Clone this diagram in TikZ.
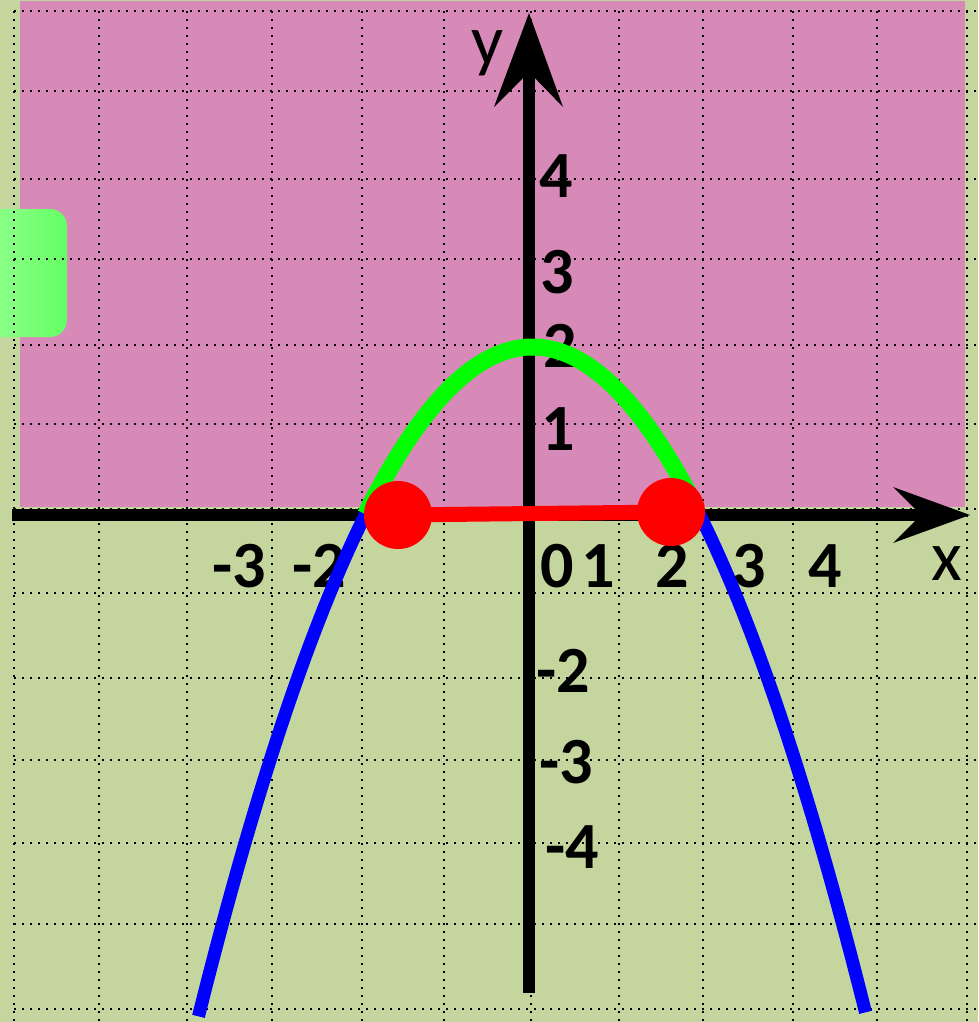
\documentclass[tikz,border=0pt]{standalone}
\usepackage{fontspec}
\setmainfont{Carlito}
\definecolor{bgolive}{RGB}{196,214,158}
\definecolor{bgpink}{RGB}{215,137,184}
\definecolor{boxlight}{RGB}{155,255,150}
\definecolor{boxdark}{RGB}{100,255,100}
\begin{document}
\begin{tikzpicture}[x=1pt,y=-1pt,
  gridline/.style={line width=2pt, dash pattern=on 2pt off 6pt, black},
  axisline/.style={line width=12pt, black},
  num/.style={font=\fontsize{66}{70}\selectfont\bfseries, inner sep=0pt, anchor=base},
  axlabel/.style={font=\fontsize{71}{75}\selectfont, inner sep=0pt, anchor=base},
  bluecurve/.style={line width=13pt, blue},
  greencurve/.style={line width=17pt, green},
  dot/.style={circle, fill=red, minimum size=68pt, inner sep=0pt}]
% background
\fill[bgolive] (0,0) rectangle (978,1022);
\useasboundingbox (0,0) rectangle (978,1022);
\fill[bgpink] (20,1) rectangle (965,507);
\shade[rounded corners=17pt, left color=boxlight, right color=boxdark] (-30,209) rectangle (67,337);
% grid
\foreach \gx in {14,99,187,272,362,444,531,619,703,793,877,967}
  \draw[gridline] (\gx,11) -- (\gx,1022);
\foreach \gy in {11,91,179,259,345,424,509,593,678,760,843,924,1009}
  \draw[gridline] (14,\gy) -- (978,\gy);
% axes
\coordinate (xstart) at (12,515);
\coordinate (xend) at (921,515);
\coordinate (ystart) at (529,993);
\coordinate (yend) at (529,72);
\draw[axisline] (xstart) -- (xend);
\fill (970,515) -- (893,487) -- (xend) -- (893,543) -- cycle;
\draw[axisline] (ystart) -- (yend);
\fill (529,13) -- (563,107) -- (yend) -- (494,107) -- cycle;
% labels
\node[axlabel] (ylab) at (488,65) {y};
\node[axlabel] (xlab) at (947,580) {x};
\node[num] (y4) at (556,197) {4};
\node[num] (y3) at (557,293) {3};
\node[num] (y2) at (560,367) {2};
\node[num] (y1) at (558,450) {1};
\node[num] (o) at (557,587) {0};
\node[num] (x1) at (598,587) {1};
\node[num] (x2) at (672,587) {2};
\node[num] (x3) at (749,587) {3};
\node[num] (x4) at (825,587) {4};
\node[num] (xm3) at (239,587) {-3};
\node[num] (xm2) at (319,587) {-2};
\node[num] (ym2) at (563,692) {-2};
\node[num] (ym3) at (566,783) {-3};
\node[num] (ym4) at (572,868) {-4};
% curves
\draw[bluecurve] plot[domain=-334:333, samples=90, smooth] ({532.5+\x}, {347+60*(\x/100)*(\x/100)});
\draw[greencurve] plot[domain=-167:158, samples=60, smooth] ({532.5+\x}, {347+60*(\x/100)*(\x/100)});
% segment and end points
\coordinate (pl) at (398,515);
\coordinate (pr) at (671,512);
\draw[line width=15pt, red] (pl) -- (pr);
\node[dot] (dl) at (pl) {};
\node[dot] (dr) at (pr) {};
\end{tikzpicture}
\end{document}
